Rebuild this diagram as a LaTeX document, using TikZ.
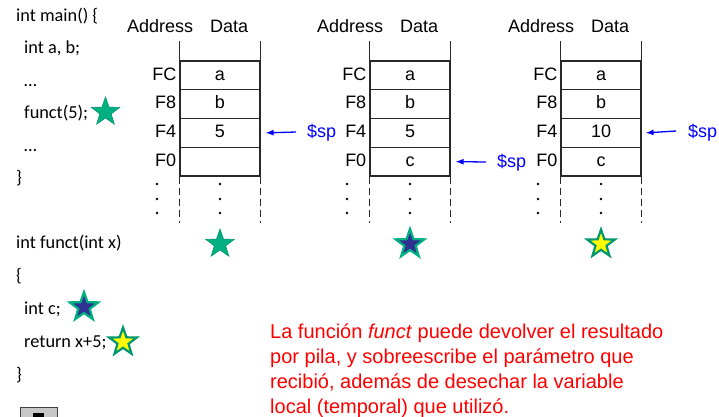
\documentclass[tikz,border=0pt]{standalone}
\usepackage{fontspec}
\setmainfont{Liberation Sans}
\newfontfamily\codefont{Carlito}
\usetikzlibrary{shapes.geometric,arrows.meta}
\definecolor{starteal}{RGB}{0,176,128}
\definecolor{stareal}{RGB}{0,150,110}
\definecolor{starnavy}{RGB}{46,49,146}
\definecolor{staryel}{RGB}{255,255,0}
\definecolor{spblue}{RGB}{0,0,255}
\definecolor{notered}{RGB}{255,0,0}
\definecolor{stackline}{RGB}{40,40,40}
\tikzset{
  big/.style={font=\fontsize{18}{22}\selectfont},
  code/.style={font=\codefont\fontsize{18.3}{22}\selectfont, anchor=base west, inner sep=0pt},
  hdr/.style={big, anchor=base west, inner sep=0pt},
  cell/.style={draw=stackline, line width=1.1pt, minimum width=80pt, minimum height=28.75pt,
    inner sep=0pt, text height=10pt, text depth=0.5pt, big},
  addrlbl/.style={big, anchor=east, inner sep=0pt, text height=10pt, text depth=0.5pt},
  vline/.style={draw=stackline, line width=1.1pt},
  dline/.style={draw=stackline, line width=1.1pt, dash pattern=on 7pt off 4pt},
  dotmark/.style={fill=black, circle, inner sep=0pt, minimum size=2.6pt},
  sparrow/.style={draw=spblue, line width=1.3pt, -{Latex[length=8pt,width=6pt]}},
  splabel/.style={big, text=spblue, anchor=base west, inner sep=0pt},
  startype/.style={star, star points=5, star point ratio=2.5, inner sep=0pt, minimum size=#1, shape border rotate=0},
  stara/.style={startype=30pt, fill=starteal, draw=stareal, line width=0.6pt},
  starb/.style={startype=30pt, fill=starnavy, draw=starteal, line width=2.2pt},
  starc/.style={startype=29pt, fill=staryel, draw=stareal, line width=2.2pt},
  redtxt/.style={font=\fontsize{20}{24}\selectfont, text=notered, anchor=base west, inner sep=0pt},
}
\newcommand\mystack[7]{%
  \begin{scope}[xshift=#2pt]
    \node[hdr] (#1addr) at (127,32) {Address};
    \node[hdr] (#1data) at (210,32) {Data};
    \node[cell] (#1c1) at (220,75.375) {#3};
    \node[cell] (#1c2) at (220,104.125) {#4};
    \node[cell] (#1c3) at (220,132.875) {#5};
    \node[cell] (#1c4) at (220,161.625) {#6};
    \draw[vline] (#1c1.north west) -- ++(0,-19);
    \draw[vline] (#1c1.north east) -- ++(0,-19);
    \draw[dline] (#1c4.south west) -- ++(0,46);
    \draw[dline] (#1c4.south east) -- ++(0,46);
    \node[addrlbl] (#1a1) at ([xshift=-3pt]#1c1.west) {FC};
    \node[addrlbl] (#1a2) at ([xshift=-3pt]#1c2.west) {F8};
    \node[addrlbl] (#1a3) at ([xshift=-3pt]#1c3.west) {F4};
    \node[addrlbl] (#1a4) at ([xshift=-3pt]#1c4.west) {F0};
    \foreach \yy [count=\k] in {184,199,213}{
      \node[dotmark] (#1dl\k) at (157,\yy) {};
      \node[dotmark] (#1dr\k) at (220,\yy) {};
    }
    \node[#7] (#1star) at (220,244) {};
  \end{scope}}
\begin{document}
\begin{tikzpicture}[x=1pt,y=-1pt]
\clip (0,0) rectangle (719,416);
\fill[white] (0,0) rectangle (719,416);

% code
\node[code] (l1) at (16,21) {int main() \{};
\node[code] (l2) at (24,53.5) {int a, b;};
\node[code] (l3) at (24,86) {\dots};
\node[code] (l4) at (24,118.5) {funct(5);};
\node[code] (l5) at (24,151) {\dots};
\node[code] (l6) at (16,183.5) {\}};
\node[code] (l7) at (16,248) {int funct(int x)};
\node[code] (l8) at (16,281) {\{};
\node[code] (l9) at (24,314) {int c;};
\node[code] (l10) at (24,347) {return x+5;};
\node[code] (l11) at (16,380) {\}};
\node[stara] (st1) at (105.5,112) {};
\node[starb] (st2) at (84,307) {};
\node[starc] (st3) at (123,342) {};

% stacks
\mystack{s1}{0}{a}{b}{5}{}{stara}
\mystack{s2}{190}{a}{b}{5}{c}{starb}
\mystack{s3}{381}{a}{b}{10}{c}{starc}

% stack pointers
\coordinate (t1) at (296,132);
\coordinate (t2) at (486,162);
\coordinate (t3) at (676,131);
\draw[sparrow] (t1) -- ([xshift=5pt]s1c3.east);
\draw[sparrow] (t2) -- ([xshift=5pt]s2c4.east);
\draw[sparrow] (t3) -- ([xshift=4pt]s3c3.east);
\node[splabel] (p1) at (307,137) {\$sp};
\node[splabel] (p2) at (497,167) {\$sp};
\node[splabel] (p3) at (688,137) {\$sp};

% note
\node[redtxt] (r1) at (270,338) {La función \textit{funct} puede devolver el resultado};
\node[redtxt] (r2) at (270,363) {por pila, y sobreescribe el parámetro que};
\node[redtxt] (r3) at (270,388) {recibió, además de desechar la variable};
\node[redtxt] (r4) at (270,413) {local (temporal) que utilizó.};

% partial button (cut off at the bottom edge)
\node[draw=black!75, fill=black!22, line width=1.4pt, minimum width=37pt, minimum height=20pt, inner sep=0pt, anchor=north west] (btn) at (20,407) {};
\fill[black] ([xshift=-6pt,yshift=-6pt]btn.north) rectangle ([xshift=5pt,yshift=-14pt]btn.north);
\end{tikzpicture}
\end{document}
